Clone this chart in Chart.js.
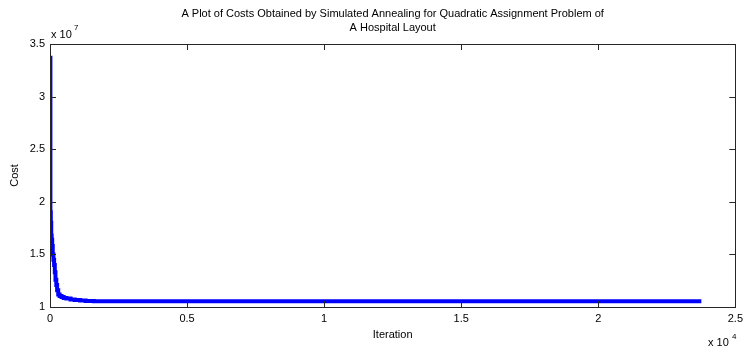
<!DOCTYPE html>
<html>
<head>
<meta charset="utf-8">
<script src="https://cdn.jsdelivr.net/npm/chart.js@4"></script>
<style>
  html, body { margin: 0; padding: 0; background: #fff; }
  #wrap { width: 748px; height: 349px; }
</style>
</head>
<body>
<div id="wrap"><canvas id="chart" width="748" height="349"></canvas></div>
<script>
// accepted-cost trace (iteration, cost)
const iterations = [0, 15, 30, 45, 60, 80, 100, 125, 150, 175, 200, 230, 260, 300, 350, 420, 500, 600, 750, 900, 1100, 1300, 1600, 23760];
const costs = [3.37e7, 1.9e7, 1.8e7, 1.68e7, 1.64e7, 1.58e7, 1.5e7, 1.45e7, 1.4e7, 1.33e7, 1.26e7, 1.21e7, 1.16e7, 1.12e7, 1.105e7, 1.095e7, 1.085e7, 1.08e7, 1.072e7, 1.067e7, 1.062e7, 1.058e7, 1.055e7, 1.055e7];
const xTicks = [0, 5000, 10000, 15000, 20000, 25000];
const yTicks = [1e7, 1.5e7, 2e7, 2.5e7, 3e7, 3.5e7];
const titleLines = ['A Plot of Costs Obtained by Simulated Annealing for Quadratic Assignment Problem of', 'A Hospital Layout'];

const FONT = '"Liberation Sans", Arial, sans-serif';
const points = iterations.map((it, i) => ({x: it, y: costs[i]}));

// box, inward ticks, title and exponent labels like matlab
const matlabFrame = {
  id: 'matlabFrame',
  afterDraw(c) {
    const ctx = c.ctx, a = c.chartArea;
    const xs = c.scales.x, ys = c.scales.y;
    ctx.save();
    ctx.strokeStyle = '#262626';
    ctx.lineWidth = 1;
    ctx.strokeRect(Math.round(a.left) + 0.5, Math.round(a.top) + 0.5, Math.round(a.right - a.left), Math.round(a.bottom - a.top));
    ctx.beginPath();
    xTicks.forEach(v => {
      const px = Math.round(xs.getPixelForValue(v)) + 0.5;
      ctx.moveTo(px, a.bottom); ctx.lineTo(px, a.bottom - 6);
      ctx.moveTo(px, a.top); ctx.lineTo(px, a.top + 6);
    });
    yTicks.forEach(v => {
      const py = Math.round(ys.getPixelForValue(v)) + 0.5;
      ctx.moveTo(a.left, py); ctx.lineTo(a.left + 6, py);
      ctx.moveTo(a.right, py); ctx.lineTo(a.right - 6, py);
    });
    ctx.stroke();

    ctx.fillStyle = '#000';
    ctx.font = '11px ' + FONT;
    ctx.textAlign = 'center';
    ctx.textBaseline = 'alphabetic';
    const cx = (a.left + a.right) / 2;
    ctx.fillText(titleLines[0], cx, 17);
    ctx.fillText(titleLines[1], cx, 31);

    ctx.textAlign = 'left';
    ctx.fillText('x 10', a.left + 1, 38);
    ctx.fillText('x 10', 708, 346);
    ctx.font = '8px ' + FONT;
    ctx.fillText('7', a.left + 24, 30);
    ctx.fillText('4', 732, 339);
    ctx.restore();
  }
};

new Chart(document.getElementById('chart'), {
  type: 'line',
  data: {
    datasets: [{
      data: points,
      borderColor: '#0000ff',
      borderWidth: 4,
      pointRadius: 0,
      stepped: true,
      fill: false
    }]
  },
  options: {
    responsive: false,
    animation: false,
    layout: { padding: { top: 44, right: 11, left: 0, bottom: 0 } },
    plugins: { legend: { display: false }, tooltip: { enabled: false } },
    scales: {
      x: {
        type: 'linear',
        min: 0, max: 25000,
        afterBuildTicks: s => { s.ticks = xTicks.map(v => ({value: v})); },
        afterFit: s => { s.height = 42; },
        grid: { display: false, drawTicks: false },
        border: { display: false },
        ticks: {
          padding: 5,
          color: '#000',
          font: { family: FONT, size: 11 },
          callback: v => String(v / 1e4)
        },
        title: {
          display: true, text: 'Iteration', color: '#000',
          font: { family: FONT, size: 11 },
          padding: { top: 0, bottom: 7 }
        }
      },
      y: {
        min: 1e7, max: 3.5e7,
        afterBuildTicks: s => { s.ticks = yTicks.map(v => ({value: v})); },
        afterFit: s => { s.width = 50; },
        grid: { display: false, drawTicks: false },
        border: { display: false },
        ticks: {
          padding: 5,
          color: '#000',
          font: { family: FONT, size: 11 },
          callback: v => String(v / 1e7)
        },
        title: {
          display: true, text: 'Cost', color: '#000',
          font: { family: FONT, size: 11 },
          padding: { top: 8, bottom: 0 }
        }
      }
    }
  },
  plugins: [matlabFrame]
});
</script>
</body>
</html>
